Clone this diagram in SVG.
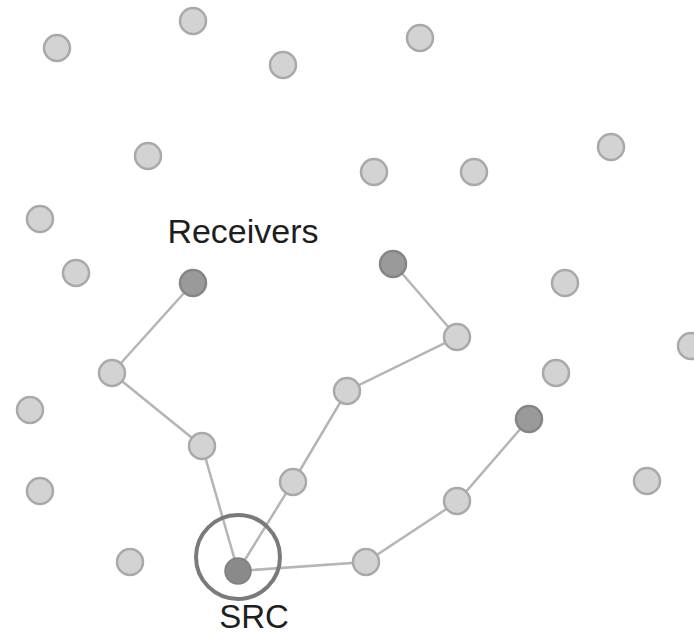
<svg xmlns="http://www.w3.org/2000/svg" width="694" height="636" viewBox="0 0 694 636">
  <style>
    .node { fill: #d3d3d3; stroke: #a9a9a9; stroke-width: 2.5; }
    .recv { fill: #9a9a9a; stroke: #858585; stroke-width: 2.5; }
    .src { fill: #8a8a8a; stroke: #7f7f7f; stroke-width: 1.5; }
    .ring { fill: none; stroke: #7a7a7a; stroke-width: 4; }
    .edge { stroke: #b5b5b5; stroke-width: 2.5; fill: none; }
    .label { font-family: "Liberation Sans", Arial, sans-serif; fill: #1e1e1e; text-anchor: middle; }
  </style>
  <rect width="694" height="636" fill="#ffffff"/>

  <!-- multicast tree paths from the source -->
  <g id="connectors">
    <polyline class="edge" points="238,571 202,446 112,373 193,283"/>
    <polyline class="edge" points="238,571 293,482 347,391 457,337 393,263"/>
    <polyline class="edge" points="238,571 366,562 457,502 529,419"/>
  </g>

  <!-- idle hosts -->
  <g id="n1"><circle class="node" cx="57" cy="48" r="13"/></g>
  <g id="n2"><circle class="node" cx="193" cy="21" r="13"/></g>
  <g id="n3"><circle class="node" cx="283" cy="65" r="13"/></g>
  <g id="n4"><circle class="node" cx="420" cy="38" r="13"/></g>
  <g id="n5"><circle class="node" cx="148" cy="156" r="13"/></g>
  <g id="n6"><circle class="node" cx="374" cy="172" r="13"/></g>
  <g id="n7"><circle class="node" cx="474" cy="172" r="13"/></g>
  <g id="n8"><circle class="node" cx="611" cy="147" r="13"/></g>
  <g id="n9"><circle class="node" cx="40" cy="219" r="13"/></g>
  <g id="n10"><circle class="node" cx="76" cy="273" r="13"/></g>
  <g id="n11"><circle class="node" cx="565" cy="283" r="13"/></g>
  <g id="n12"><circle class="node" cx="691" cy="346" r="13"/></g>
  <g id="n13"><circle class="node" cx="556" cy="373" r="13"/></g>
  <g id="n14"><circle class="node" cx="30" cy="410" r="13"/></g>
  <g id="n15"><circle class="node" cx="40" cy="491" r="13"/></g>
  <g id="n16"><circle class="node" cx="647" cy="481" r="13"/></g>
  <g id="n17"><circle class="node" cx="130" cy="562" r="13"/></g>

  <!-- forwarding hosts on the tree -->
  <g id="r1"><circle class="node" cx="112" cy="373" r="13"/></g>
  <g id="r2"><circle class="node" cx="202" cy="446" r="13"/></g>
  <g id="r3"><circle class="node" cx="293" cy="482" r="13"/></g>
  <g id="r4"><circle class="node" cx="347" cy="391" r="13"/></g>
  <g id="r5"><circle class="node" cx="457" cy="337" r="13"/></g>
  <g id="r6"><circle class="node" cx="366" cy="562" r="13"/></g>
  <g id="r7"><circle class="node" cx="457" cy="501" r="13"/></g>

  <!-- receivers -->
  <g id="recv1"><circle class="recv" cx="193" cy="283" r="13"/></g>
  <g id="recv2"><circle class="recv" cx="393" cy="264" r="13"/></g>
  <g id="recv3"><circle class="recv" cx="529" cy="419" r="13"/></g>
  <text class="label" x="243" y="243" font-size="34">Receivers</text>

  <!-- source -->
  <g id="source">
    <circle class="ring" cx="238" cy="557" r="42"/>
    <circle class="src" cx="238" cy="571" r="13"/>
    <text class="label" x="254" y="628" font-size="33">SRC</text>
  </g>
</svg>
